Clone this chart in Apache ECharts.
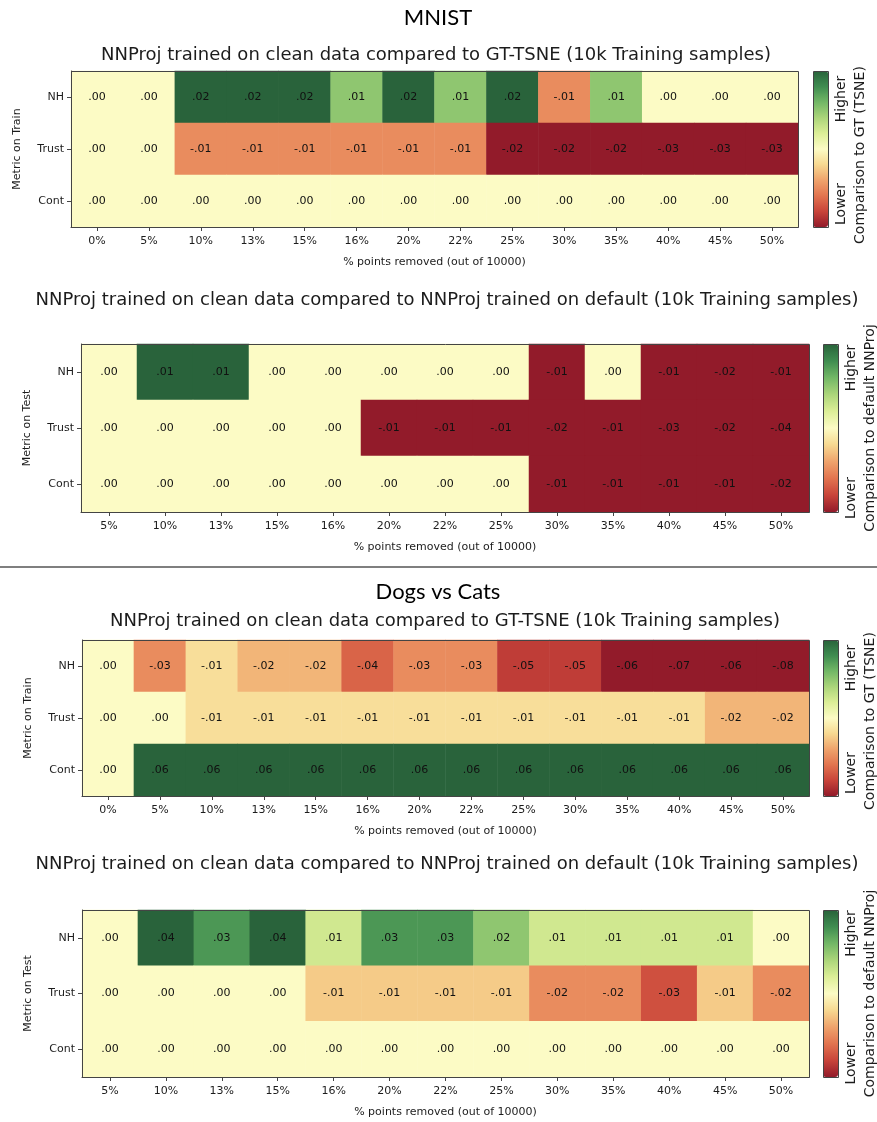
<!DOCTYPE html>
<html>
<head>
<meta charset="utf-8">
<script src="https://cdn.jsdelivr.net/npm/echarts@6/dist/echarts.min.js"></script>
<style>
  html, body { margin: 0; padding: 0; background: #ffffff; }
  #chart { width: 877px; height: 1122px; }
</style>
</head>
<body>
<div id="chart"></div>
<script>
// ---- data ----
const rowsMetric = ['NH', 'Trust', 'Cont'];
const pctWithZero = ['0%', '5%', '10%', '13%', '15%', '16%', '20%', '22%', '25%', '30%', '35%', '40%', '45%', '50%'];
const pctNoZero = ['5%', '10%', '13%', '15%', '16%', '20%', '22%', '25%', '30%', '35%', '40%', '45%', '50%'];

// MNIST: clean NNProj vs GT-TSNE (train metrics)
const mnistTsneNH    = [0, 0, 0.02, 0.02, 0.02, 0.01, 0.02, 0.01, 0.02, -0.01, 0.01, 0, 0, 0];
const mnistTsneTrust = [0, 0, -0.01, -0.01, -0.01, -0.01, -0.01, -0.01, -0.02, -0.02, -0.02, -0.03, -0.03, -0.03];
const mnistTsneCont  = [0, 0, 0, 0, 0, 0, 0, 0, 0, 0, 0, 0, 0, 0];

// MNIST: clean NNProj vs default NNProj (test metrics)
const mnistDefNH    = [0, 0.01, 0.01, 0, 0, 0, 0, 0, -0.01, 0, -0.01, -0.02, -0.01];
const mnistDefTrust = [0, 0, 0, 0, 0, -0.01, -0.01, -0.01, -0.02, -0.01, -0.03, -0.02, -0.04];
const mnistDefCont  = [0, 0, 0, 0, 0, 0, 0, 0, -0.01, -0.01, -0.01, -0.01, -0.02];

// Dogs vs Cats: clean NNProj vs GT-TSNE (train metrics)
const dvcTsneNH    = [0, -0.03, -0.01, -0.02, -0.02, -0.04, -0.03, -0.03, -0.05, -0.05, -0.06, -0.07, -0.06, -0.08];
const dvcTsneTrust = [0, 0, -0.01, -0.01, -0.01, -0.01, -0.01, -0.01, -0.01, -0.01, -0.01, -0.01, -0.02, -0.02];
const dvcTsneCont  = [0, 0.06, 0.06, 0.06, 0.06, 0.06, 0.06, 0.06, 0.06, 0.06, 0.06, 0.06, 0.06, 0.06];

// Dogs vs Cats: clean NNProj vs default NNProj (test metrics)
const dvcDefNH    = [0, 0.04, 0.03, 0.04, 0.01, 0.03, 0.03, 0.02, 0.01, 0.01, 0.01, 0.01, 0];
const dvcDefTrust = [0, 0, 0, 0, -0.01, -0.01, -0.01, -0.01, -0.02, -0.02, -0.03, -0.01, -0.02];
const dvcDefCont  = [0, 0, 0, 0, 0, 0, 0, 0, 0, 0, 0, 0, 0];

const subtitleTsne = 'NNProj trained on clean data compared to GT-TSNE (10k Training samples)';
const subtitleDef = 'NNProj trained on clean data compared to NNProj trained on default (10k Training samples)';
const xName = '% points removed (out of 10000)';

// ---- styling / layout ----
const FONT = '"DejaVu Sans", sans-serif';
const TEXT = '#1c1c1c';
// red-yellow-green diverging ramp
const ramp = ['#921b2a', '#c8443a', '#e2744f', '#efa36c', '#f7d891', '#fcfbc5',
              '#dcee97', '#abd57a', '#72b766', '#3f8c50', '#29633b'];

const panels = [
  { cats: pctWithZero, rows: [mnistTsneNH, mnistTsneTrust, mnistTsneCont], yName: 'Metric on Train',
    grid: { left: 71, top: 71, width: 727, height: 156 }, bar: { left: 813, w: 15 },
    cbLabel: 'Comparison to GT (TSNE)', hiLoX: 841, cbX: 860, hiOff: -50, loOff: 55, cbOff: 6 },
  { cats: pctNoZero, rows: [mnistDefNH, mnistDefTrust, mnistDefCont], yName: 'Metric on Test',
    grid: { left: 81, top: 344, width: 728, height: 168 }, bar: { left: 823, w: 15 },
    cbLabel: 'Comparison to default NNProj', hiLoX: 851, cbX: 870, hiOff: -60, loOff: 70, cbOff: 0 },
  { cats: pctWithZero, rows: [dvcTsneNH, dvcTsneTrust, dvcTsneCont], yName: 'Metric on Train',
    grid: { left: 82, top: 640, width: 727, height: 156 }, bar: { left: 823, w: 15 },
    cbLabel: 'Comparison to GT (TSNE)', hiLoX: 851, cbX: 870, hiOff: -50, loOff: 55, cbOff: 3 },
  { cats: pctNoZero, rows: [dvcDefNH, dvcDefTrust, dvcDefCont], yName: 'Metric on Test',
    grid: { left: 82, top: 910, width: 727, height: 167 }, bar: { left: 823, w: 15 },
    cbLabel: 'Comparison to default NNProj', hiLoX: 851, cbX: 870, hiOff: -60, loOff: 70, cbOff: 0 }
];

const fmt = v => (v < 0 ? '-' : '') + Math.abs(v).toFixed(2).replace(/^0/, '');

const grids = [], xAxes = [], yAxes = [], series = [], visualMaps = [], graphics = [];

panels.forEach((p, i) => {
  const all = p.rows.flat();
  const vmax = Math.max(...all);          // colour scale: [-max, +max], clipped
  const data = [];
  p.rows.forEach((vals, r) => {
    vals.forEach((v, c) => {
      data.push([c, r, v, Math.max(-vmax, Math.min(vmax, v))]);
    });
  });

  grids.push(Object.assign({ show: false, containLabel: false }, p.grid));

  xAxes.push({
    type: 'category', gridIndex: i, data: p.cats, position: 'bottom', z: 10,
    name: xName, nameLocation: 'middle', nameGap: 30,
    nameTextStyle: { fontFamily: FONT, fontSize: 11, color: TEXT },
    axisLine: { show: true, lineStyle: { color: '#444', width: 1 } },
    axisTick: { show: true, alignWithLabel: true, length: 4, lineStyle: { color: '#444' } },
    axisLabel: { fontFamily: FONT, fontSize: 11, color: TEXT, margin: 9, interval: 0 },
    splitArea: { show: false }, splitLine: { show: false }
  });

  yAxes.push({
    type: 'category', gridIndex: i, data: rowsMetric, inverse: true, z: 10,
    name: p.yName, nameLocation: 'middle', nameGap: 48, nameRotate: 90,
    nameTextStyle: { fontFamily: FONT, fontSize: 11, color: TEXT },
    axisLine: { show: true, lineStyle: { color: '#444', width: 1 } },
    axisTick: { show: true, alignWithLabel: true, length: 4, lineStyle: { color: '#444' } },
    axisLabel: { fontFamily: FONT, fontSize: 11, color: TEXT, margin: 7 },
    splitArea: { show: false }, splitLine: { show: false }
  });

  series.push({
    type: 'heatmap', xAxisIndex: i, yAxisIndex: i, data: data,
    label: {
      show: true, formatter: d => fmt(d.value[2]),
      fontFamily: FONT, fontSize: 11, color: '#111'
    },
    itemStyle: { borderWidth: 0 },
    emphasis: { disabled: true }
  });

  visualMaps.push({
    type: 'continuous', seriesIndex: i, dimension: 3,
    min: -vmax, max: vmax, inRange: { color: ramp },
    show: true, calculable: false, hoverLink: false, orient: 'vertical',
    left: p.bar.left, top: p.grid.top, itemWidth: p.bar.w, itemHeight: p.grid.height,
    padding: 0, textGap: 0
  });

  const g = p.grid;
  const cy = g.top + g.height / 2;
  // frame around the heatmap and the colour bar
  graphics.push({
    type: 'rect', z: 100, silent: true,
    shape: { x: g.left + 0.5, y: g.top + 0.5, width: g.width, height: g.height },
    style: { fill: 'none', stroke: '#444', lineWidth: 1 }
  });
  graphics.push({
    type: 'rect', z: 100, silent: true,
    shape: { x: p.bar.left + 0.5, y: g.top + 0.5, width: p.bar.w, height: g.height },
    style: { fill: 'none', stroke: '#444', lineWidth: 1 }
  });
  // colour bar captions
  const capStyle = { fontFamily: FONT, fontSize: 14, fill: TEXT, align: 'center', verticalAlign: 'middle' };
  graphics.push({ type: 'text', x: p.hiLoX, y: cy + p.hiOff, rotation: Math.PI / 2, silent: true,
    style: Object.assign({ text: 'Higher' }, capStyle) });
  graphics.push({ type: 'text', x: p.hiLoX, y: cy + p.loOff, rotation: Math.PI / 2, silent: true,
    style: Object.assign({ text: 'Lower' }, capStyle) });
  graphics.push({ type: 'text', x: p.cbX, y: cy + p.cbOff, rotation: Math.PI / 2, silent: true,
    style: Object.assign({ text: p.cbLabel }, capStyle) });
});

// headings
const headStyle = { fontFamily: '"Lato", "Noto Sans", sans-serif', fontSize: 22, fill: '#000', align: 'center', verticalAlign: 'middle' };
const subStyle = { fontFamily: FONT, fontSize: 18, fill: TEXT, align: 'center', verticalAlign: 'middle' };
graphics.push({ type: 'text', x: 438, y: 18, silent: true, style: Object.assign({ text: 'MNIST' }, headStyle) });
graphics.push({ type: 'text', x: 436, y: 55, silent: true, style: Object.assign({ text: subtitleTsne }, subStyle) });
graphics.push({ type: 'text', x: 447, y: 300, silent: true, style: Object.assign({ text: subtitleDef }, subStyle) });
graphics.push({ type: 'text', x: 438, y: 592, silent: true, style: Object.assign({ text: 'Dogs vs Cats' }, headStyle) });
graphics.push({ type: 'text', x: 445, y: 621, silent: true, style: Object.assign({ text: subtitleTsne }, subStyle) });
graphics.push({ type: 'text', x: 447, y: 864, silent: true, style: Object.assign({ text: subtitleDef }, subStyle) });
// divider between the two datasets
graphics.push({ type: 'line', silent: true, shape: { x1: 0, y1: 567, x2: 877, y2: 567 },
  style: { stroke: '#555', lineWidth: 1.5 } });

const chart = echarts.init(document.getElementById('chart'), null, { renderer: 'canvas' });
chart.setOption({
  backgroundColor: '#ffffff',
  animation: false,
  grid: grids,
  xAxis: xAxes,
  yAxis: yAxes,
  visualMap: visualMaps,
  series: series,
  graphic: graphics
});
</script>
</body>
</html>
